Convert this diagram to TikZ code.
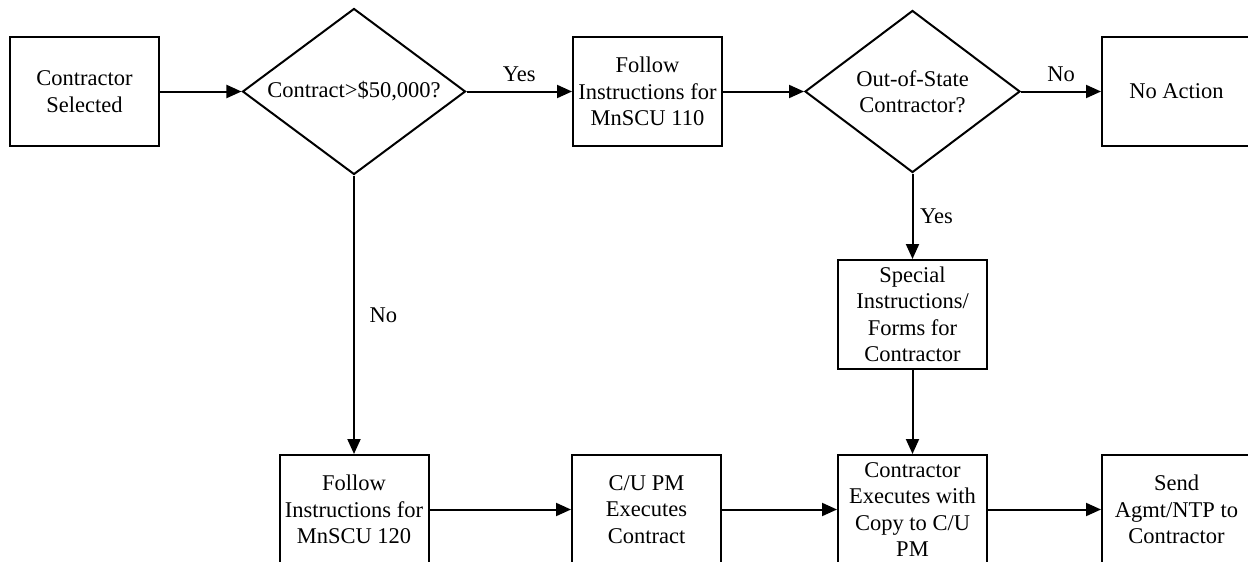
\documentclass[tikz,border=0pt]{standalone}
\usepackage{fontspec}
\setmainfont{Liberation Serif}
\usetikzlibrary{shapes.geometric,arrows.meta}

\tikzset{
    stepbox/.style={draw, line width=1pt, rectangle, minimum width=74.5pt, minimum height=54.5pt, inner sep=0pt, align=center},
    decision/.style={draw, line width=1pt, diamond, aspect=1.34, inner sep=0pt, align=center},
    flow/.style={line width=1pt, -{Triangle[length=7.5pt,width=6.5pt]}},
}

\begin{document}
\begin{tikzpicture}[x=0.5pt, y=-0.5pt, font=\fontsize{11.25}{13.25}\selectfont]
    \useasboundingbox (0,0) rectangle (1248,562);

    % Top row: selection and the two questions
    \node[stepbox] (selected) at (84.5,91.5) {Contractor\\Selected};
    \node[decision, minimum width=111.5pt, minimum height=83pt] (bigcontract) at (354,91.5) {Contract>\$50,000?};
    \node[stepbox] (follow110) at (647.5,91.5) {Follow\\Instructions for\\MnSCU 110};
    \node[decision, minimum width=107.5pt, minimum height=81pt] (outofstate) at (912.5,91.5) {Out-of-State\\Contractor?};
    \node[stepbox] (noaction) at (1176.5,91.5) {No Action};

    % Middle: extra forms
    \node[stepbox] (special) at (912.5,314.5) {Special\\Instructions/\\Forms for\\Contractor};

    % Bottom row: execution of the contract
    \node[stepbox] (follow120) at (354,509.5) {Follow\\Instructions for\\MnSCU 120};
    \node[stepbox] (cupm) at (646.5,509.5) {C/U PM\\Executes\\Contract};
    \node[stepbox] (executes) at (912.5,509.5) {Contractor\\Executes with\\Copy to C/U\\PM};
    \node[stepbox] (send) at (1176.5,509.5) {Send\\Agmt/NTP to\\Contractor};

    % Connectors
    \draw[flow] (selected) -- (bigcontract);
    \draw[flow] (bigcontract) -- node[above, yshift=1pt] {Yes} (follow110);
    \draw[flow] (follow110) -- (outofstate);
    \draw[flow] (outofstate) -- node[above, yshift=1pt] {No} (noaction);
    \draw[flow] (outofstate) -- node[right] {Yes} (special);
    \draw[flow] (special) -- (executes);
    \draw[flow] (bigcontract) -- node[right, xshift=4pt] {No} (follow120);
    \draw[flow] (follow120) -- (cupm);
    \draw[flow] (cupm) -- (executes);
    \draw[flow] (executes) -- (send);
\end{tikzpicture}
\end{document}
